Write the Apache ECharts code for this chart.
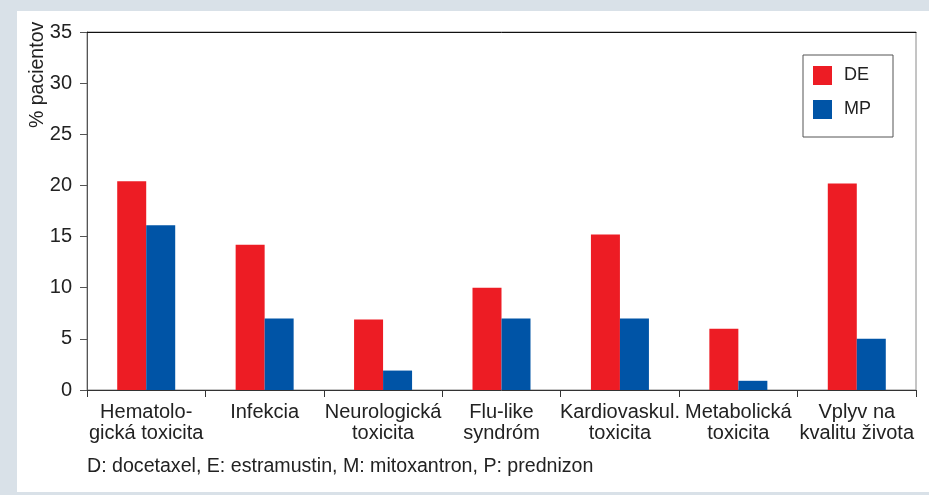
<!DOCTYPE html>
<html>
<head>
<meta charset="utf-8">
<script src="https://cdn.jsdelivr.net/npm/echarts@6/dist/echarts.min.js"></script>
<style>
html,body{margin:0;padding:0;background:#d9e1e8;}
#chart{width:929px;height:495px;}
</style>
</head>
<body>
<div id="chart"></div>
<script>
const categories = [
  "Hematolo-\ngická toxicita",
  "Infekcia",
  "Neurologická\ntoxicita",
  "Flu-like\nsyndróm",
  "Kardiovaskul.\ntoxicita",
  "Metabolická\ntoxicita",
  "Vplyv na\nkvalitu života"
];
const seriesDE = [20.4, 14.2, 6.9, 10.0, 15.2, 6.0, 20.2];
const seriesMP = [16.1, 7.0, 1.9, 7.0, 7.0, 0.9, 5.0];
const yTicks = { min: 0, max: 35, interval: 5 };
const yTitle = "% pacientov";
const footnote = "D: docetaxel, E: estramustin, M: mitoxantron, P: prednizon";

const FONT = "'Liberation Sans', Arial, Helvetica, sans-serif";
const chart = echarts.init(document.getElementById('chart'), null, {renderer: 'canvas'});
chart.setOption({
  backgroundColor: '#d9e1e8',
  animation: false,
  textStyle: { fontFamily: FONT },
  graphic: [
    { type: 'rect', z: -10, shape: { x: 17, y: 11, width: 912, height: 481 }, style: { fill: '#ffffff' } },
    { type: 'text', x: 38, y: 128, rotation: Math.PI / 2,
      style: { text: yTitle, font: '19.5px ' + FONT, fill: '#222', align: 'left', verticalAlign: 'middle' } },
    { type: 'text', x: 87, y: 467,
      style: { text: footnote, font: '19.6px ' + FONT, fill: '#222', align: 'left', verticalAlign: 'middle' } }
  ],
  grid: { left: 87, right: 13, top: 32, bottom: 105, show: true, borderColor: '#8a8a8a', borderWidth: 1, backgroundColor: 'transparent' },
  legend: {
    left: 803, top: 55, orient: 'vertical',
    data: ['DE', 'MP'],
    icon: 'rect', itemWidth: 19, itemHeight: 19, itemGap: 15,
    borderColor: '#555', borderWidth: 1,
    padding: [11, 22, 18, 10],
    textStyle: { fontSize: 18, color: '#222', fontFamily: FONT, padding: [0, 0, 0, 7] }
  },
  xAxis: [{
    type: 'category', data: categories, position: 'bottom',
    axisLine: { lineStyle: { color: '#333', width: 1 } },
    axisTick: { show: true, length: 7, interval: 0, lineStyle: { color: '#333' } },
    axisLabel: { interval: 0, fontSize: 20, lineHeight: 21, color: '#222', margin: 12, fontFamily: FONT }
  }, {
    type: 'category', data: categories, position: 'top',
    axisLine: { lineStyle: { color: '#111', width: 1 } },
    axisTick: { show: false }, axisLabel: { show: false }
  }],
  yAxis: {
    type: 'value', min: yTicks.min, max: yTicks.max, interval: yTicks.interval,
    axisLine: { show: true, lineStyle: { color: '#555' } },
    axisTick: { show: true, length: 7, lineStyle: { color: '#555' } },
    splitLine: { show: false },
    axisLabel: { fontSize: 20, color: '#222', margin: 15, fontFamily: FONT }
  },
  series: [
    { name: 'DE', type: 'bar', data: seriesDE, barWidth: 29, barGap: '0%', itemStyle: { color: '#ed1c24' } },
    { name: 'MP', type: 'bar', data: seriesMP, barWidth: 29, barGap: '0%', itemStyle: { color: '#0054a6' } }
  ]
});
</script>
</body>
</html>
